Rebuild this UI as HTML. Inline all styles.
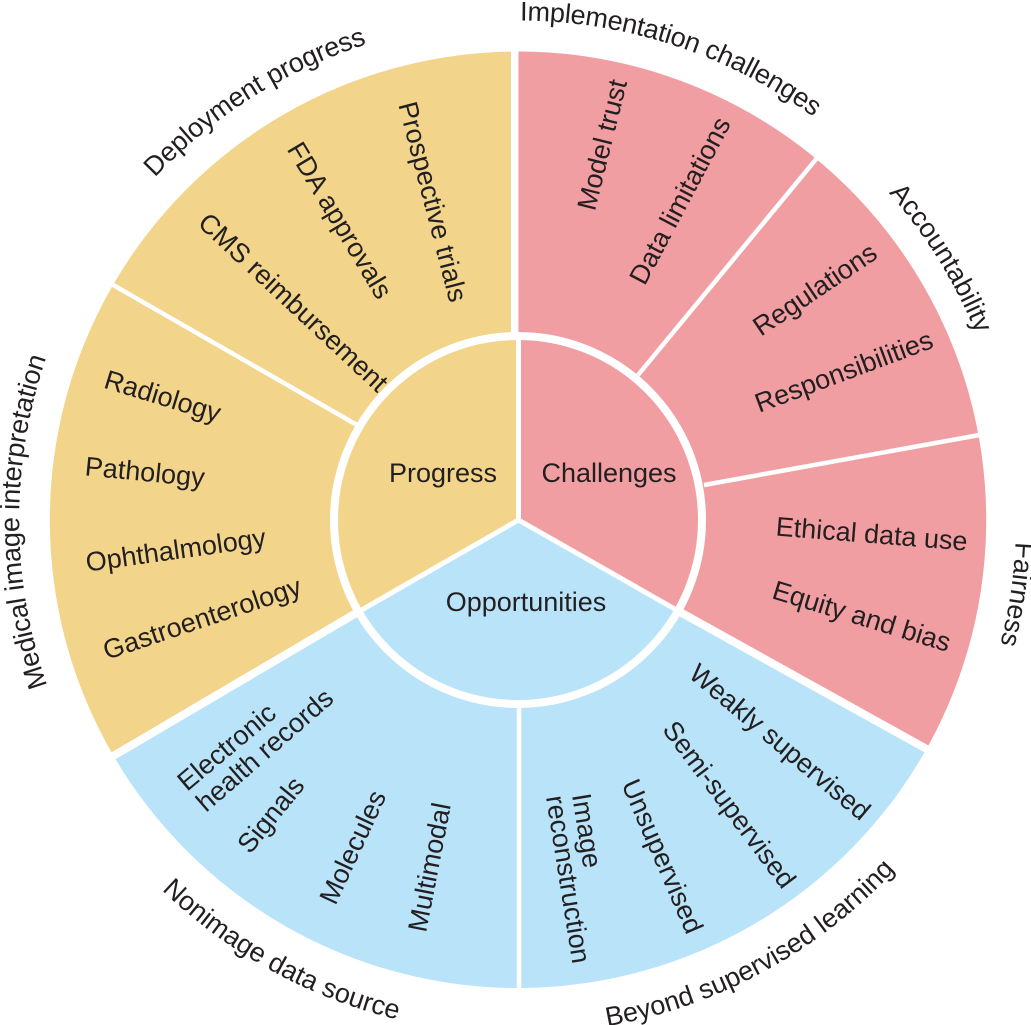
<!DOCTYPE html>
<html><head><meta charset="utf-8"><style>
html,body{margin:0;padding:0;background:#fff;width:1031px;height:1025px;overflow:hidden}
svg{display:block}
text{font-family:"Liberation Sans",Arial,sans-serif;font-size:27px;fill:#231f20}
</style></head><body>
<svg width="1031" height="1025" viewBox="0 0 1031 1025" xmlns="http://www.w3.org/2000/svg">
<defs>
<path id="cw" d="M518.5,1019.5 A499.5,499.5 0 0 1 518.5,20.5 A499.5,499.5 0 0 1 518.5,1019.5"/>
<path id="cw2" d="M518.5,1014 A494,494 0 0 1 518.5,26 A494,494 0 0 1 518.5,1014"/>
<path id="cw3" d="M518.5,1017.5 A497.5,497.5 0 0 1 518.5,22.5 A497.5,497.5 0 0 1 518.5,1017.5"/>
<path id="ccw" d="M4.5,520 A514,514 0 0 0 1032.5,520"/>
</defs>
<path d="M518.5,520 L518.5,51.5 A468.5,468.5 0 0 1 927,748 Z" fill="#f09ea2"/>
<path d="M518.5,520 L518.5,51.5 A468.5,468.5 0 0 0 113,755 Z" fill="#f2d58a"/>
<path d="M518.5,520 L927,748 A468.5,468.5 0 0 1 113,755 Z" fill="#b9e3f9"/>
<g stroke="#fff" fill="none">
<line x1="514.7" y1="45" x2="514.7" y2="340" stroke-width="7.5"/>
<line x1="680" y1="612" x2="932" y2="752" stroke-width="8"/>
<line x1="358" y1="612" x2="108" y2="759" stroke-width="8"/>
<line x1="519" y1="700" x2="519" y2="995" stroke-width="4.5"/>
<line x1="357" y1="425" x2="108" y2="282" stroke-width="4.5"/>
<line x1="638" y1="375" x2="822" y2="152" stroke-width="4.5"/>
<line x1="704" y1="485" x2="985" y2="434" stroke-width="4.5"/>
<circle cx="518" cy="520" r="184" stroke-width="8"/>
<line x1="518.5" y1="335" x2="518.5" y2="520" stroke-width="5"/>
<line x1="518.5" y1="520" x2="358" y2="612" stroke-width="5"/>
<line x1="518.5" y1="520" x2="680" y2="612" stroke-width="5"/>
</g>
<text x="443" y="482" text-anchor="middle">Progress</text>
<text x="609" y="482" text-anchor="middle">Challenges</text>
<text x="526" y="611" text-anchor="middle">Opportunities</text>

<g text-anchor="middle">
<text letter-spacing="-0.2"><textPath href="#cw" startOffset="24.94%">Medical image interpretation</textPath></text>
<text letter-spacing="-0.2"><textPath href="#cw" startOffset="41.05%">Deployment progress</textPath></text>
<text letter-spacing="-0.3"><textPath href="#cw" startOffset="55.05%">Implementation challenges</textPath></text>
<text><textPath href="#cw2" startOffset="66.17%">Accountability</textPath></text>
<text><textPath href="#cw3" startOffset="77.36%">Fairness</textPath></text>
<text><textPath href="#ccw" startOffset="34%">Nonimage data source</textPath></text>
<text><textPath href="#ccw" startOffset="65.85%">Beyond supervised learning</textPath></text>

<text transform="translate(611,147) rotate(-76)">Model trust</text>
<text transform="translate(688,205) rotate(-62)">Data limitations</text>
<text transform="translate(820,297) rotate(-34)">Regulations</text>
<text transform="translate(847,380) rotate(-20.5)">Responsibilities</text>
<text transform="translate(871,543) rotate(4.5)">Ethical data use</text>
<text transform="translate(859,625) rotate(17)">Equity and bias</text>
<text transform="translate(774,749) rotate(40)">Weakly supervised</text>
<text transform="translate(722,810) rotate(53)">Semi-supervised</text>
<text transform="translate(654,860) rotate(66.5)">Unsupervised</text>
<text transform="translate(438.5,869) rotate(-79)">Multimodal</text>
<text transform="translate(361,851) rotate(-65)">Molecules</text>
<text transform="translate(205,627) rotate(-18.5)">Gastroenterology</text>
<text transform="translate(177,559) rotate(-8)">Ophthalmology</text>
<text transform="translate(144,481) rotate(5.5)">Pathology</text>
<text transform="translate(160,405) rotate(17)">Radiology</text>
<text transform="translate(287,309) rotate(43)">CMS reimbursement</text>
<text transform="translate(332,225) rotate(59)">FDA approvals</text>
<text transform="translate(424,204) rotate(75.5)">Prospective trials</text>
</g>
<text transform="translate(572,795) rotate(81)">Image</text>
<text transform="translate(546,797) rotate(81)">reconstruction</text>
<text transform="translate(187,792) rotate(-40)">Electronic</text>
<text transform="translate(206,813) rotate(-41)">health records</text>
<text transform="translate(250,855) rotate(-51)">Signals</text>
</svg>
</body></html>
